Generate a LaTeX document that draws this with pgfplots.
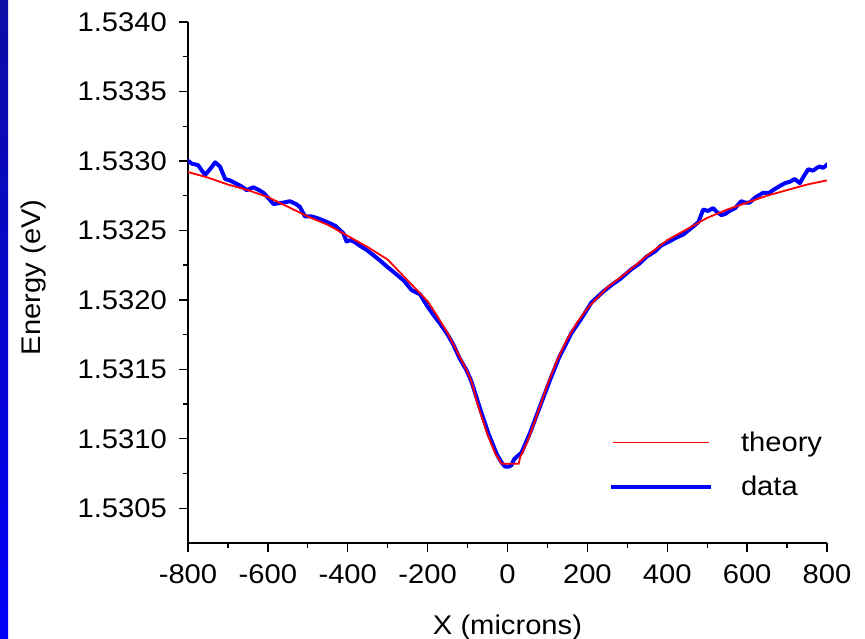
\documentclass[border=0pt]{standalone}
\usepackage{fontspec}
\setmainfont{Liberation Sans}[FakeStretch=1.08]
\usepackage{pgfplots}
\pgfplotsset{compat=1.18}
\newcommand\ff{\fontsize{27pt}{32pt}\selectfont}
\definecolor{stripetop}{RGB}{12,12,165}
\definecolor{stripebot}{RGB}{0,0,250}
\begin{document}
\begin{tikzpicture}
\useasboundingbox (0,0) rectangle (865pt,639pt);
\fill[white] (0,0) rectangle (865pt,639pt);
\shade[top color=stripetop, bottom color=stripebot] (0,0) rectangle (8pt,639pt);
\begin{axis}[
  at={(188pt,96pt)}, anchor=south west,
  scale only axis, width=639pt, height=521pt,
  xmin=-800, xmax=800, ymin=1.53025, ymax=1.5340,
  axis x line*=bottom, axis y line*=left,
  axis line style={-, line width=1.3pt, black},
  xtick={-800,-600,-400,-200,0,200,400,600,800},
  ytick={1.5305,1.531,1.5315,1.532,1.5325,1.533,1.5335,1.534},
  minor x tick num=1, minor y tick num=1,
  tick align=outside, major tick length=9pt, minor tick length=5pt,
  every tick/.style={black, line width=1.3pt},
  scaled y ticks=false, scaled x ticks=false,
  yticklabel style={/pgf/number format/.cd, fixed, fixed zerofill, precision=4, /tikz/.cd, xshift=-12pt},
  xticklabel style={yshift=-12pt},
  /pgf/number format/assume math mode=true,
  tick label style={font=\ff, inner sep=0pt},
  xlabel={X (microns)},
  xlabel style={at={(axis description cs:0.5,-0.163)}, anchor=center, font=\ff},
  ylabel={Energy (eV)},
  ylabel style={at={(axis description cs:-0.241,0.51)}, anchor=center, font=\ff},
  legend style={draw=none, fill=none, at={(rel axis cs:0.662,0.213)}, anchor=north west,
    inner sep=0pt, outer sep=0pt, row sep=23pt, column sep=30pt, font=\ff,
    nodes={inner sep=0pt}},
  legend cell align=left,
  reverse legend,
  legend image code/.code={\draw[#1] (0pt,0pt) -- (96pt,0pt);},
]
\addplot[color={rgb,255:red,0;green,0;blue,255}, line width=4pt, line join=round, line cap=rect] coordinates {
(-800,1.53300) (-790,1.53298) (-775,1.53297) (-765,1.53293) (-757,1.53290)
(-745,1.53294) (-732,1.53299) (-720,1.53296) (-707,1.53287) (-695,1.53286)
(-682,1.53284) (-668,1.53282) (-653,1.53279) (-636,1.53281) (-622,1.53279)
(-611,1.53277) (-598,1.53273) (-586,1.53269) (-561,1.53270) (-545,1.53271)
(-530,1.53269) (-520,1.53267) (-507,1.53260) (-490,1.53260) (-478,1.53259)
(-460,1.53257) (-444,1.53255) (-430,1.53253) (-419,1.53250) (-411,1.53248)
(-403,1.53242) (-394,1.53243) (-385,1.53242) (-370,1.53239) (-353,1.53236)
(-335,1.53232) (-318,1.53228) (-302,1.53224) (-285,1.53220) (-260,1.53214)
(-240,1.53207) (-219,1.53204) (-202,1.53196) (-185,1.53189) (-169,1.53183)
(-150,1.53175) (-136,1.53168) (-120,1.53158) (-102,1.53149) (-90,1.53141)
(-69,1.53122) (-48,1.53104) (-27,1.53089) (-15,1.53083) (-6,1.53080)
(4,1.53080) (10,1.53081) (16,1.53085) (23,1.53087) (35,1.53090)
(56,1.53104) (81,1.53123) (106,1.53142) (130,1.53159) (160,1.53176)
(186,1.53187) (210,1.53198) (240,1.53206) (262,1.53211) (282,1.53215)
(310,1.53222) (330,1.53226) (348,1.53231) (370,1.53235) (384,1.53239)
(398,1.53241) (424,1.53245) (440,1.53247) (453,1.53250) (466,1.53253)
(478,1.53256) (490,1.53265) (502,1.53264) (515,1.53266) (525,1.53263)
(536,1.53261) (546,1.53262) (556,1.53264) (570,1.53266) (585,1.53271)
(595,1.53270) (606,1.53270) (622,1.53274) (640,1.53277) (655,1.53277)
(665,1.53279) (682,1.53282) (695,1.53284) (707,1.53285) (719,1.53287)
(732,1.53284) (742,1.53289) (753,1.53294) (765,1.53293) (775,1.53295)
(782,1.53296) (790,1.53295) (799,1.53297)
};
\addlegendentry{data}
\addplot[color={rgb,255:red,255;green,0;blue,0}, line width=1.8pt] coordinates {
(-800,1.53292) (-750,1.53288) (-700,1.53283) (-650,1.53279) (-600,1.53274)
(-550,1.53267) (-500,1.53260) (-450,1.53254) (-400,1.53246) (-350,1.53238)
(-300,1.53229) (-250,1.53214) (-200,1.53199) (-175,1.53188) (-150,1.53176)
(-125,1.53162) (-100,1.53148) (-90,1.53141) (-75,1.53125) (-50,1.53103)
(-30,1.53089) (-14,1.53082) (28,1.53082) (32,1.53087) (50,1.53098)
(75,1.53118) (100,1.53139) (125,1.53157) (150,1.53172) (175,1.53184)
(200,1.53194) (250,1.53209) (300,1.53220) (350,1.53232) (400,1.53243)
(450,1.53251) (500,1.53259) (550,1.53265) (600,1.53270) (650,1.53275)
(700,1.53279) (750,1.53283) (800,1.53286)
};
\addlegendentry{theory}
\end{axis}
\end{tikzpicture}
\end{document}
